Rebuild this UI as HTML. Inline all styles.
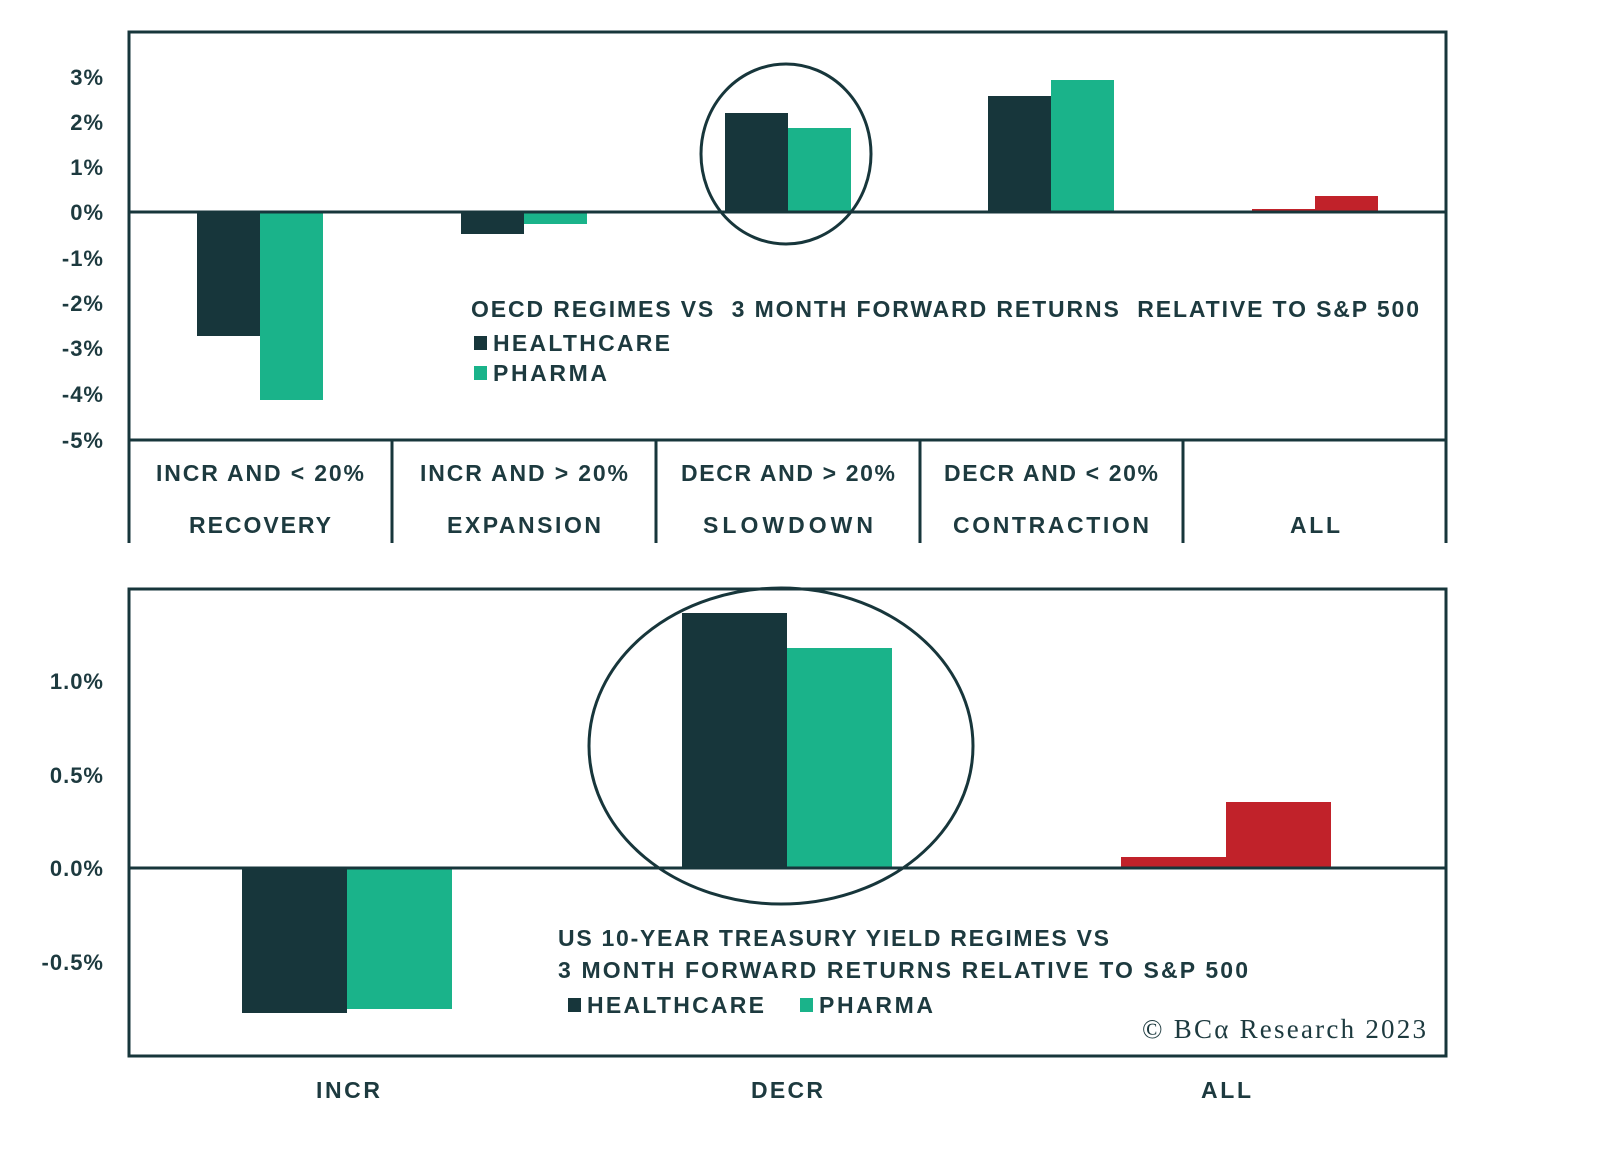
<!DOCTYPE html>
<html><head><meta charset="utf-8"><style>
html,body{margin:0;padding:0;background:#fff;}
svg text{font-family:"Liberation Sans",sans-serif;font-weight:bold;fill:#1d3a3f;}
</style></head><body>
<svg width="1600" height="1151" viewBox="0 0 1600 1151" xmlns="http://www.w3.org/2000/svg">
<rect width="1600" height="1151" fill="#fff"/>
<!-- TOP CHART -->
<g font-size="22" text-anchor="end" letter-spacing="1">
<text x="104" y="85">3%</text>
<text x="104" y="130">2%</text>
<text x="104" y="175">1%</text>
<text x="104" y="220">0%</text>
<text x="104" y="266">-1%</text>
<text x="104" y="311">-2%</text>
<text x="104" y="356">-3%</text>
<text x="104" y="402">-4%</text>
<text x="104" y="448">-5%</text>
</g>
<rect x="197" y="212" width="63" height="124" fill="#17363b"/>
<rect x="260" y="212" width="63" height="188" fill="#1ab38a"/>
<rect x="461" y="212" width="63" height="22" fill="#17363b"/>
<rect x="524" y="212" width="63" height="12" fill="#1ab38a"/>
<rect x="725" y="113" width="63" height="99" fill="#17363b"/>
<rect x="788" y="128" width="63" height="84" fill="#1ab38a"/>
<rect x="988" y="96" width="63" height="116" fill="#17363b"/>
<rect x="1051" y="80" width="63" height="132" fill="#1ab38a"/>
<rect x="1252" y="209" width="63" height="3" fill="#c1222a"/>
<rect x="1315" y="196" width="63" height="16" fill="#c1222a"/>
<line x1="128" y1="212" x2="1446" y2="212" stroke="#17363b" stroke-width="3"/>
<ellipse cx="786" cy="154" rx="85" ry="90" fill="none" stroke="#17363b" stroke-width="3"/>
<path d="M129 543 V32 H1446 V543 M128 440 H1446 M392 440 V543 M656 440 V543 M920 440 V543 M1183 440 V543" fill="none" stroke="#17363b" stroke-width="3"/>
<g font-size="23" text-anchor="middle">
<text x="260" y="481" textLength="208">INCR AND &lt; 20%</text>
<text x="260" y="533" textLength="142">RECOVERY</text>
<text x="524" y="481" textLength="208">INCR AND &gt; 20%</text>
<text x="524" y="533" textLength="154">EXPANSION</text>
<text x="788" y="481" textLength="214">DECR AND &gt; 20%</text>
<text x="788" y="533" textLength="170">SLOWDOWN</text>
<text x="1051" y="481" textLength="214">DECR AND &lt; 20%</text>
<text x="1051" y="533" textLength="196">CONTRACTION</text>
<text x="1315" y="533" textLength="50">ALL</text>
</g>
<g font-size="23">
<text x="471" y="317" textLength="948" xml:space="preserve">OECD REGIMES VS  3 MONTH FORWARD RETURNS  RELATIVE TO S&amp;P 500</text>
<rect x="474" y="336" width="13" height="14" fill="#17363b"/>
<text x="493" y="351" textLength="177">HEALTHCARE</text>
<rect x="474" y="366" width="13" height="14" fill="#1ab38a"/>
<text x="493" y="381" textLength="114">PHARMA</text>
</g>
<!-- BOTTOM CHART -->
<g font-size="22" text-anchor="end" letter-spacing="1">
<text x="104" y="689">1.0%</text>
<text x="104" y="783">0.5%</text>
<text x="104" y="876">0.0%</text>
<text x="104" y="970">-0.5%</text>
</g>
<rect x="242" y="868" width="105" height="145" fill="#17363b"/>
<rect x="347" y="868" width="105" height="141" fill="#1ab38a"/>
<rect x="682" y="613" width="105" height="255" fill="#17363b"/>
<rect x="787" y="648" width="105" height="220" fill="#1ab38a"/>
<rect x="1121" y="857" width="105" height="11" fill="#c1222a"/>
<rect x="1226" y="802" width="105" height="66" fill="#c1222a"/>
<line x1="128" y1="868" x2="1446" y2="868" stroke="#17363b" stroke-width="3"/>
<ellipse cx="781" cy="746" rx="192" ry="158" fill="none" stroke="#17363b" stroke-width="3"/>
<rect x="129" y="589" width="1317" height="467" fill="none" stroke="#17363b" stroke-width="3"/>
<g font-size="23">
<text x="558" y="946" textLength="551">US 10-YEAR TREASURY YIELD REGIMES VS</text>
<text x="558" y="978" textLength="690">3 MONTH FORWARD RETURNS RELATIVE TO S&amp;P 500</text>
<rect x="568" y="998" width="13" height="14" fill="#17363b"/>
<text x="587" y="1013" textLength="177">HEALTHCARE</text>
<rect x="800" y="998" width="13" height="14" fill="#1ab38a"/>
<text x="819" y="1013" textLength="114">PHARMA</text>
</g>
<text x="1426" y="1038" font-size="27" text-anchor="end" textLength="284" style="font-family:'Liberation Serif',serif;font-weight:normal">© BCα Research 2023</text>
<g font-size="23" text-anchor="middle">
<text x="348" y="1098" textLength="64">INCR</text>
<text x="787" y="1098" textLength="72">DECR</text>
<text x="1226" y="1098" textLength="50">ALL</text>
</g>
</svg>
</body></html>
